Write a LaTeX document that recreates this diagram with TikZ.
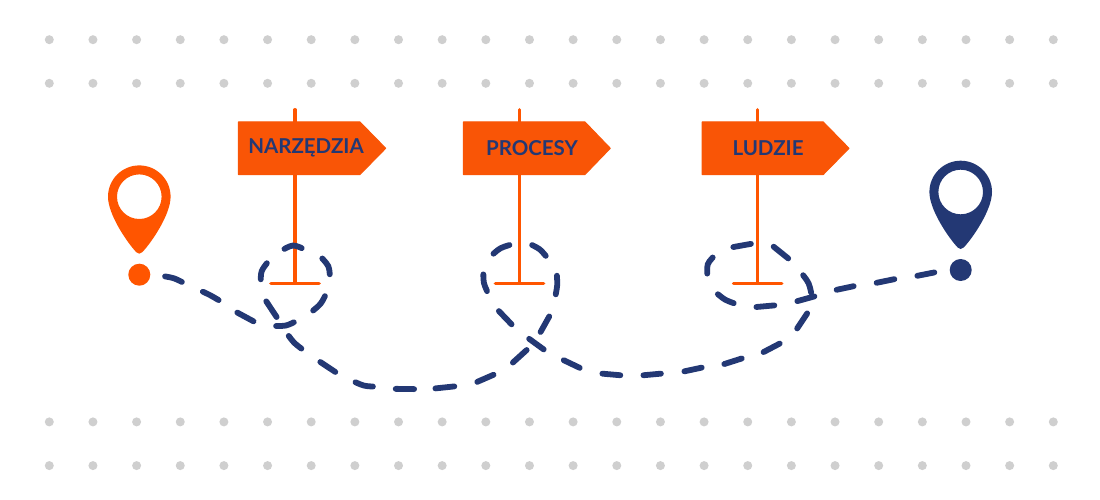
\documentclass[tikz,border=0pt]{standalone}
\usepackage{fontspec}
\setmainfont{Lato}
\definecolor{pinorange}{HTML}{FF5500}
\definecolor{signorange}{HTML}{F95506}
\definecolor{navy}{HTML}{233874}
\definecolor{dotgray}{HTML}{CFCFCF}
\tikzset{
  dashpiece/.style={draw=navy,line width=5.8pt,line cap=round,shorten >=2.4pt,shorten <=2.4pt},
  postline/.style={draw=pinorange,line width=3.2pt,line cap=round},
  signshape/.style={fill=signorange,draw=signorange,line width=1pt,line join=round},
  signtext/.style={text=navy,font=\fontsize{20.5}{20.5}\selectfont\bfseries,inner sep=0pt,anchor=center},
  griddot/.style={fill=dotgray,draw=none}
}
\newcommand{\pinmark}[4]{% x, y, colour, dot y
  \fill[#3,even odd rule] (#1-31.3,#2) arc[start angle=180,end angle=360,radius=31.3]
    .. controls (#1+31.3,#2+18) and (#1+12,#2+46) .. (#1+3,#2+55.5)
    .. controls (#1+1.5,#2+57.5) and (#1-1.5,#2+57.5) .. (#1-3,#2+55.5)
    .. controls (#1-12,#2+46) and (#1-31.3,#2+18) .. (#1-31.3,#2) -- cycle
    (#1,#2) circle[radius=22.3];
  \fill[#3] (#1,#4) circle[radius=11];
}
\newcommand{\signpost}[7]{% name, left, shoulder, tip, pole, text, text centre
  \draw[postline] (#5,109.6) -- (#5,283.3);
  \draw[postline] (#5-24.2,283.3) -- (#5+24.2,283.3);
  \path[signshape] (#2,122) -- (#3,122) -- (#4,148.3) -- (#3,174.5) -- (#2,174.5) -- cycle;
  \node[signtext] (#1) at (#7,148) {#6};
}
\newcommand{\dsh}[3]{\draw[dashpiece] #1 .. controls #2 .. #3;}
\begin{document}
\begin{tikzpicture}[x=1pt,y=-1pt]
\useasboundingbox (0,0) rectangle (1100,500);
\fill[white] (0,0) rectangle (1100,500);
\foreach \yy in {39.7,83.3,421.9,465.6}{
  \foreach \i in {0,...,23}{
    \fill[griddot] ({49.3+43.652*\i},\yy) circle[radius=4.5];
  }
}
\signpost{narzedzia}{238.3}{360}{385.7}{295}{NARZĘDZIA}{306}
\signpost{procesy}{463.3}{585}{610.3}{519.5}{PROCESY}{532}
\signpost{ludzie}{702}{823.3}{849}{757.7}{LUDZIE}{768}
\pinmark{139.3}{196.7}{pinorange}{274.7}
\pinmark{960.7}{192}{navy}{270}
% dashed route, piece by piece
\dsh{(162.7,276)}{(174,278)}{(184,283)}
\dsh{(200.7,290.7)}{(210,295)}{(220.7,301.3)}
\dsh{(235.3,311.3)}{(245,317.5)}{(255.7,322.3)}
\dsh{(273.7,326)}{(286,326)}{(296,321.3)}
\dsh{(265,299.3)}{(271,309)}{(278,319)}
\dsh{(260.7,281.7)}{(261,271)}{(268.3,261.3)}
\dsh{(282.3,250)}{(293,244.5)}{(304,249)}
\dsh{(320.7,256.7)}{(329,266)}{(330,276.7)}
\dsh{(326,294)}{(321,304)}{(311.3,312)}
\dsh{(287.3,334)}{(294,343)}{(303.3,350)}
\dsh{(318.3,360.7)}{(328,367)}{(337.3,373.3)}
\dsh{(353.3,381.3)}{(364,386)}{(375.3,386.7)}
\dsh{(393.3,388.7)}{(405,389.5)}{(416.5,389)}
\dsh{(433,388.5)}{(445,388)}{(456.7,386)}
\dsh{(475,382.7)}{(486,378.5)}{(495.7,373.7)}
\dsh{(511,364)}{(520,357)}{(528.3,348.3)}
\dsh{(539.3,334)}{(545,325)}{(550.3,314.3)}
\dsh{(555.3,296.7)}{(557.5,285)}{(556.7,273.3)}
\dsh{(547.3,257.7)}{(540,249)}{(530,244)}
\dsh{(511.7,244.3)}{(500,248)}{(491.7,255.3)}
\dsh{(483.3,272)}{(483.5,283)}{(488,293.3)}
\dsh{(497.3,309.3)}{(505,318)}{(513.3,326)}
\dsh{(527.3,337.3)}{(536,344.5)}{(545.7,350.7)}
\dsh{(561.7,359)}{(571,364.5)}{(582,368.7)}
\dsh{(600,373.3)}{(611,375)}{(622.7,375.3)}
\dsh{(641,375.3)}{(652,375)}{(663.3,373.3)}
\dsh{(682,371.7)}{(693,370)}{(704,367)}
\dsh{(722,364.7)}{(733,361.5)}{(744,357.7)}
\dsh{(761.3,353)}{(772,348.5)}{(781.7,342.3)}
\dsh{(795.7,330.3)}{(803,321)}{(808.3,311.3)}
\dsh{(795,301.7)}{(806,299)}{(816.7,295.7)}
\dsh{(811.7,295)}{(809,283)}{(801.7,273.3)}
\dsh{(790,260)}{(781,252)}{(771.7,245.3)}
\dsh{(753.3,243.7)}{(742,244.5)}{(731,247.7)}
\dsh{(714.3,255.7)}{(707,264)}{(707.3,276)}
\dsh{(716,292.7)}{(725,300)}{(736,304)}
\dsh{(754,307)}{(765,307)}{(776.7,305)}
\dsh{(834.3,290.3)}{(845,288)}{(856,285.7)}
\dsh{(874.3,283.3)}{(885,281)}{(896.7,278.7)}
\dsh{(915,276.3)}{(926,274)}{(936.7,272)}
\end{tikzpicture}
\end{document}
